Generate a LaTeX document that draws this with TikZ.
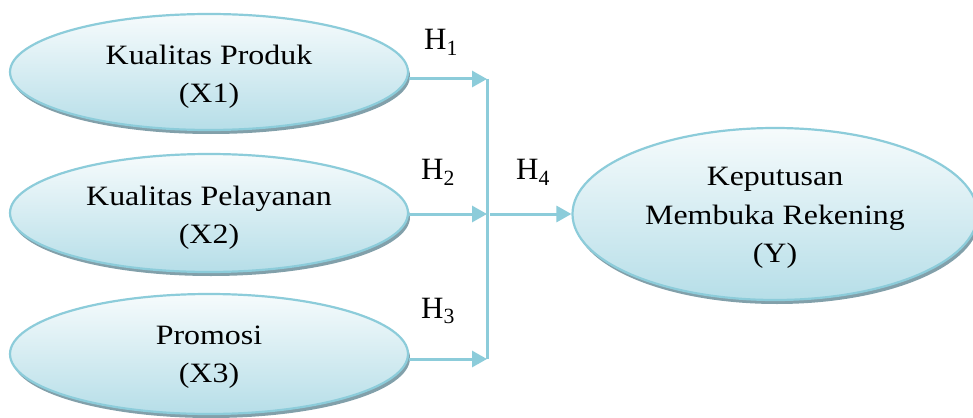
\documentclass[tikz,border=0pt]{standalone}
\usepackage{fontspec}
\setmainfont{Liberation Serif}
\newfontfamily\widefont[FakeStretch=1.14]{Liberation Serif}
\usetikzlibrary{shapes.geometric,shadows,arrows.meta}
\definecolor{rim}{RGB}{140,204,218}
\definecolor{filltop}{RGB}{246,251,252}
\definecolor{fillbot}{RGB}{182,222,232}
\definecolor{shade}{RGB}{130,160,170}
\tikzset{
  var/.style={ellipse, draw=rim, line width=2.2pt, top color=filltop, bottom color=fillbot,
    minimum width=398pt, minimum height=118pt, inner sep=0pt,
    drop shadow={shadow xshift=2pt, shadow yshift=-4pt, fill=shade, opacity=1}},
  vtext/.style={align=center, inner sep=0pt, font=\widefont\fontsize{28}{38.5}\selectfont},
  link/.style={draw=rim, line width=3pt, -{Triangle[length=15pt,width=16pt]}},
  bar/.style={draw=rim, line width=3pt},
  hyp/.style={font=\fontsize{31}{36}\selectfont, inner sep=0pt}
}
\begin{document}
\begin{tikzpicture}[x=1pt,y=-1pt]
\useasboundingbox[fill=white] (0,0) rectangle (973,417);
% variable ellipses
\node[var, minimum height=116pt] (x1) at (209,72) {};
\node[var] (x2) at (209,213) {};
\node[var, minimum height=120pt] (x3) at (209,354) {};
\node[var, minimum width=405pt, minimum height=172pt] (y) at (775,214) {};
% their labels
\node[vtext] (x1t) at ([yshift=-5pt]x1.center) {Kualitas Produk\\(X1)};
\node[vtext] (x2t) at ([yshift=-5pt]x2.center) {Kualitas Pelayanan\\(X2)};
\node[vtext] (x3t) at ([yshift=-3pt]x3.center) {Promosi\\(X3)};
\node[vtext] (yt) at ([yshift=-4pt]y.center) {Keputusan\\Membuka Rekening\\(Y)};
% junction and arrows
\coordinate (j1) at (487,79);
\coordinate (j2) at (487,214);
\coordinate (j3) at (487,359);
\coordinate (j4) at (490,214);
\draw[bar] (j1) -- (j3);
\draw[link] (x1.east |- j1) -- (j1);
\draw[link] (x2.east |- j2) -- (j2);
\draw[link] (x3.east |- j3) -- (j3);
\draw[link] (j4) -- (y.west);
% hypothesis labels
\node[hyp] (h1) at (441,42) {H\textsubscript{1}};
\node[hyp] (h2) at (438,172) {H\textsubscript{2}};
\node[hyp] (h3) at (438,311) {H\textsubscript{3}};
\node[hyp] (h4) at (533,172) {H\textsubscript{4}};
\end{tikzpicture}
\end{document}
